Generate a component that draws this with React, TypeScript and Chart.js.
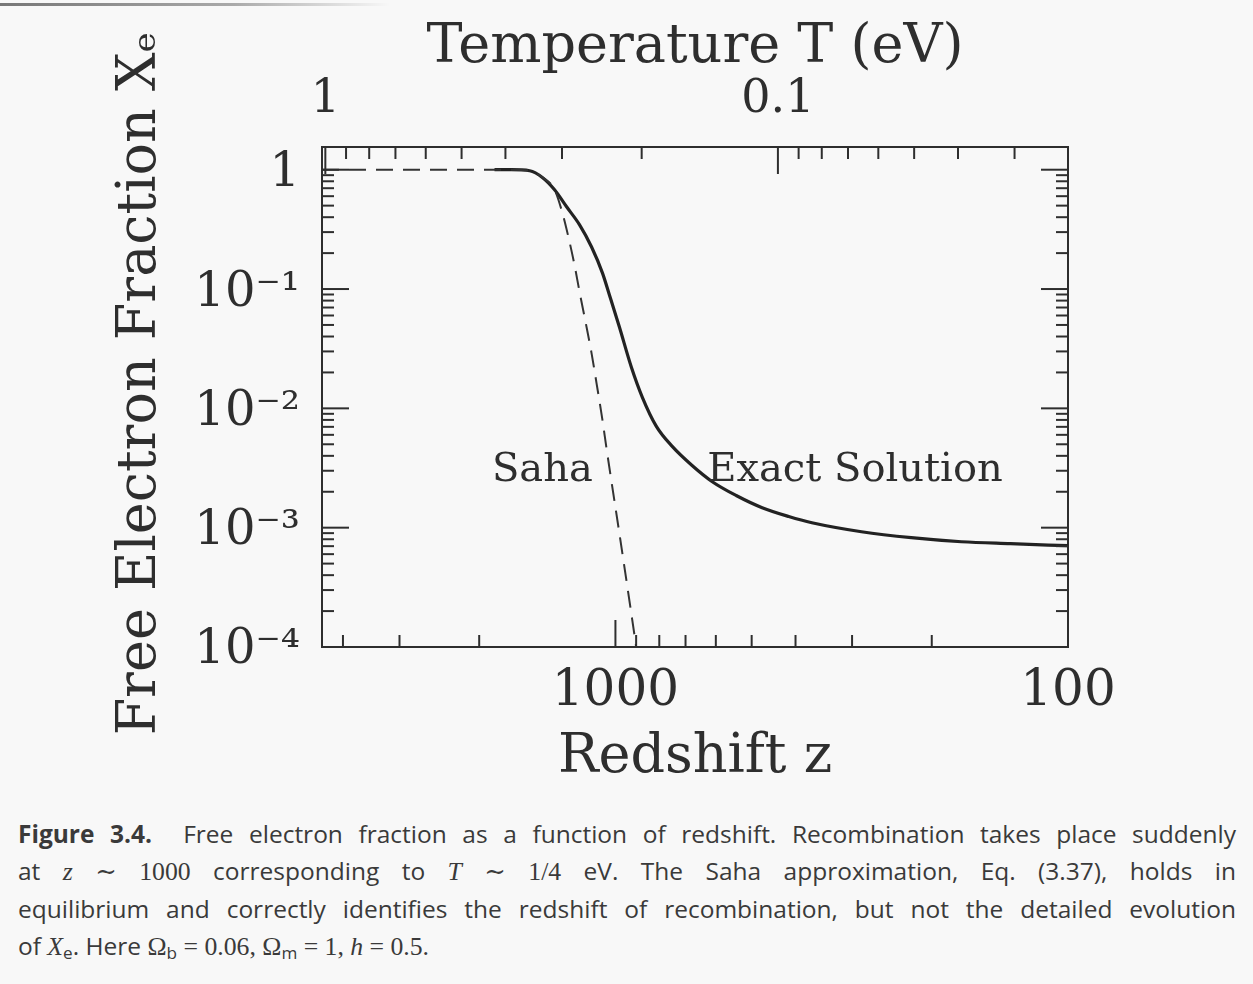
import React, { useEffect, useRef } from 'react';
import { Chart, registerables } from 'chart.js';

Chart.register(...registerables);

// ---------- data ----------
const exactRedshift = [1850, 1700, 1547, 1448, 1363, 1282, 1200, 1129, 1068, 1031, 980, 922, 872, 812, 749, 677, 612, 541, 474, 414, 368, 286, 222, 172, 134, 100];
const exactFraction = [1.0, 1.0, 0.98, 0.857, 0.679, 0.489, 0.345, 0.225, 0.136, 0.0891, 0.048, 0.0221, 0.01237, 0.00706, 0.0048, 0.00332, 0.00244, 0.00186, 0.00147, 0.00124, 0.0011, 0.000925, 0.000824, 0.000762, 0.000734, 0.000706];

const sahaRedshift = [4450, 1700, 1547, 1448, 1363, 1308, 1263, 1231, 1200, 1164, 1129, 1101, 1068, 1047, 1020, 980, 946, 922, 904, 895];
const sahaFraction = [1, 1, 0.98, 0.86, 0.68, 0.427, 0.248, 0.158, 0.0943, 0.0528, 0.0289, 0.0163, 0.00794, 0.00468, 0.00242, 0.000894, 0.000365, 0.000189, 0.000113, 0.0000855];

const annotationText = ['Saha', 'Exact Solution'];
const annotationRedshift = [1875, 627];
const annotationFraction = [0.00244, 0.00244];

// axis ranges
const zMin = 100;
const zMax = 4450;
const zPerEV = 4375; // redshift at T = 1 eV
const xeMin = 1e-4;
const xeMax = 1.55;

// ticks
const zTickValues = [100, 200, 300, 400, 500, 600, 700, 800, 900, 1000, 2000, 3000, 4000];
const zLabelValues = [1000, 100];
const zLabelTexts = ['1000', '100'];

const tTickValues = [0.03, 0.04, 0.05, 0.06, 0.07, 0.08, 0.09, 0.1, 0.2, 0.3, 0.4, 0.5, 0.6, 0.7, 0.8, 0.9, 1];
const tLabelValues = [1, 0.1];
const tLabelTexts = ['1', '0.1'];

const yTickValues = [
  0.0001, 0.0002, 0.0003, 0.0004, 0.0005, 0.0006, 0.0007, 0.0008, 0.0009,
  0.001, 0.002, 0.003, 0.004, 0.005, 0.006, 0.007, 0.008, 0.009,
  0.01, 0.02, 0.03, 0.04, 0.05, 0.06, 0.07, 0.08, 0.09,
  0.1, 0.2, 0.3, 0.4, 0.5, 0.6, 0.7, 0.8, 0.9,
  1,
];
const yLabelValues = [1, 0.1, 0.01, 0.001, 0.0001];
const yLabelTexts = ['1', '10\u207B\u00B9', '10\u207B\u00B2', '10\u207B\u00B3', '10\u207B\u2074'];

const INK = '#2e2e2e';
const SERIF = "'DejaVu Serif', 'Liberation Serif', serif";

function pick(values: number[], texts: string[], v: number): string {
  const i = values.findIndex((a) => Math.abs(a - v) / a < 1e-6);
  return i >= 0 ? texts[i] : '';
}

function makeTicks(values: number[], majors: number[]) {
  return values.map((v) => ({ value: v, major: majors.some((m) => Math.abs(m - v) / m < 1e-6) }));
}

const MAJOR_LEN = 27;
const MINOR_LEN = 12;

const inwardTicks = {
  id: 'inwardTicks',
  afterDraw(chart: any) {
    const { ctx, chartArea: a } = chart;
    ctx.save();
    ctx.strokeStyle = INK;
    ctx.lineWidth = 2;
    const draw = (x1: number, y1: number, x2: number, y2: number) => {
      ctx.beginPath();
      ctx.moveTo(x1, y1);
      ctx.lineTo(x2, y2);
      ctx.stroke();
    };
    const xs = chart.scales.x;
    for (const t of xs.ticks) {
      const p = xs.getPixelForValue(t.value);
      draw(p, a.bottom, p, a.bottom - (t.major ? MAJOR_LEN : MINOR_LEN));
    }
    const x2 = chart.scales.x2;
    for (const t of x2.ticks) {
      const p = x2.getPixelForValue(t.value);
      draw(p, a.top, p, a.top + (t.major ? MAJOR_LEN : MINOR_LEN));
    }
    const ys = chart.scales.y;
    for (const t of ys.ticks) {
      const p = ys.getPixelForValue(t.value);
      const len = t.major ? MAJOR_LEN : MINOR_LEN;
      draw(a.left, p, a.left + len, p);
      draw(a.right, p, a.right - len, p);
    }
    ctx.restore();
  },
};

const annotations = {
  id: 'curveLabels',
  afterDatasetsDraw(chart: any) {
    const { ctx } = chart;
    const xs = chart.scales.x;
    const ys = chart.scales.y;
    ctx.save();
    ctx.fillStyle = INK;
    ctx.font = `40px ${SERIF}`;
    ctx.textAlign = 'left';
    ctx.textBaseline = 'alphabetic';
    annotationText.forEach((txt, i) => {
      ctx.fillText(txt, xs.getPixelForValue(annotationRedshift[i]), ys.getPixelForValue(annotationFraction[i]));
    });
    ctx.restore();
  },
};

export default function App() {
  const ref = useRef<HTMLCanvasElement>(null);

  useEffect(() => {
    const canvas = ref.current;
    if (!canvas) return;
    const chart = new Chart(canvas, {
      type: 'line',
      data: {
        datasets: [
          {
            label: 'Saha',
            data: sahaRedshift.map((z, i) => ({ x: z, y: sahaFraction[i] })),
            borderColor: '#333333',
            borderWidth: 2,
            borderDash: [17, 10],
            pointRadius: 0,
            fill: false,
            cubicInterpolationMode: 'monotone',
            xAxisID: 'x',
            yAxisID: 'y',
          },
          {
            label: 'Exact Solution',
            data: exactRedshift.map((z, i) => ({ x: z, y: exactFraction[i] })),
            borderColor: '#222222',
            borderWidth: 3.2,
            pointRadius: 0,
            fill: false,
            cubicInterpolationMode: 'monotone',
            xAxisID: 'x',
            yAxisID: 'y',
          },
        ],
      },
      options: {
        animation: false,
        responsive: false,
        devicePixelRatio: 1,
        layout: { padding: 0 },
        plugins: {
          legend: { display: false },
          tooltip: { enabled: false },
          title: { display: false },
        },
        scales: {
          x: {
            type: 'logarithmic',
            position: 'bottom',
            reverse: true,
            min: zMin,
            max: zMax,
            grid: { display: false, drawTicks: false },
            border: { display: true, color: INK, width: 2 },
            afterBuildTicks: (s: any) => {
              s.ticks = makeTicks(zTickValues, zLabelValues);
            },
            afterFit: (s: any) => {
              s.height = 153;
            },
            ticks: {
              autoSkip: false,
              maxRotation: 0,
              minRotation: 0,
              padding: 20,
              color: INK,
              font: { family: SERIF, size: 50, lineHeight: 1 },
              callback: (v: any) => pick(zLabelValues, zLabelTexts, Number(v)),
            },
            title: {
              display: true,
              text: 'Redshift z',
              color: INK,
              font: { family: SERIF, size: 54, lineHeight: 1 },
              padding: { top: 0, bottom: 15 },
            },
          },
          x2: {
            type: 'logarithmic',
            position: 'top',
            reverse: true,
            min: zMin / zPerEV,
            max: zMax / zPerEV,
            grid: { display: false, drawTicks: false },
            border: { display: true, color: INK, width: 2 },
            afterBuildTicks: (s: any) => {
              s.ticks = makeTicks(tTickValues, tLabelValues);
            },
            afterFit: (s: any) => {
              s.height = 147;
            },
            ticks: {
              autoSkip: false,
              maxRotation: 0,
              minRotation: 0,
              padding: 24,
              color: INK,
              font: { family: SERIF, size: 46, lineHeight: 1 },
              callback: (v: any) => pick(tLabelValues, tLabelTexts, Number(v)),
            },
            title: {
              display: true,
              text: 'Temperature T (eV)',
              color: INK,
              font: { family: SERIF, size: 54, lineHeight: 1 },
              padding: { top: 21, bottom: 0 },
            },
          },
          y: {
            type: 'logarithmic',
            position: 'left',
            min: xeMin,
            max: xeMax,
            grid: { display: false, drawTicks: false },
            border: { display: true, color: INK, width: 2 },
            afterBuildTicks: (s: any) => {
              s.ticks = makeTicks(yTickValues, yLabelValues);
            },
            afterFit: (s: any) => {
              s.width = 322;
            },
            ticks: {
              autoSkip: false,
              padding: 22,
              labelOffset: 4,
              color: INK,
              font: { family: SERIF, size: 48, lineHeight: 1 },
              callback: (v: any) => pick(yLabelValues, yLabelTexts, Number(v)),
            },
            title: {
              display: true,
              text: '\u2002Free Electron Fraction X\u2091',
              color: INK,
              font: { family: SERIF, size: 54, lineHeight: 1 },
              padding: { top: 114, bottom: 0 },
            },
          },
          y2: {
            type: 'logarithmic',
            position: 'right',
            min: xeMin,
            max: xeMax,
            grid: { display: false, drawTicks: false },
            border: { display: true, color: INK, width: 2 },
            ticks: { display: false },
            afterFit: (s: any) => {
              s.width = 185;
            },
          },
        },
      } as any,
      plugins: [inwardTicks, annotations],
    });
    return () => chart.destroy();
  }, []);

  const lineStyle: React.CSSProperties = {
    textAlign: 'justify',
    textAlignLast: 'justify' as any,
  };
  const math: React.CSSProperties = { fontFamily: "'Liberation Serif', 'DejaVu Serif', serif", fontSize: '1.05em' };
  const sub: React.CSSProperties = { fontSize: '0.7em', verticalAlign: '-0.25em', lineHeight: 0 };

  return (
    <div
      style={{
        position: 'absolute',
        left: 0,
        top: 0,
        width: 1253,
        height: 984,
        background: '#f8f8f8',
        overflow: 'hidden',
      }}
    >
      <div
        style={{
          position: 'absolute',
          left: 0,
          top: 3,
          width: 390,
          height: 3,
          background: 'linear-gradient(to right, #777, #aaa 60%, rgba(200,200,200,0))',
        }}
      />
      <canvas
        ref={ref}
        width={1253}
        height={800}
        style={{ position: 'absolute', left: 0, top: 0, width: 1253, height: 800 }}
      />
      <div
        style={{
          position: 'absolute',
          left: 18,
          top: 815,
          width: 1218,
          fontFamily: "'Open Sans', 'Noto Sans', sans-serif",
          fontSize: 24.5,
          lineHeight: '37px',
          color: '#3a3a3a',
        }}
      >
        <div style={lineStyle}>
          <b>Figure 3.4.</b>&nbsp; Free electron fraction as a function of redshift. Recombination takes place suddenly
        </div>
        <div style={lineStyle}>
          at <i style={math}>z</i> <span style={math}>∼ 1000</span> corresponding to <i style={math}>T</i>{' '}
          <span style={math}>∼ 1/4</span> eV. The Saha approximation, Eq. (3.37), holds in
        </div>
        <div style={lineStyle}>
          equilibrium and correctly identifies the redshift of recombination, but not the detailed evolution
        </div>
        <div style={{ textAlign: 'left' }}>
          of <i style={math}>X</i>
          <sub style={sub}>e</sub>. Here <span style={math}>Ω</span>
          <sub style={sub}>b</sub> <span style={math}>= 0.06, Ω</span>
          <sub style={sub}>m</sub> <span style={math}>= 1, </span>
          <i style={math}>h</i> <span style={math}>= 0.5.</span>
        </div>
      </div>
    </div>
  );
}
